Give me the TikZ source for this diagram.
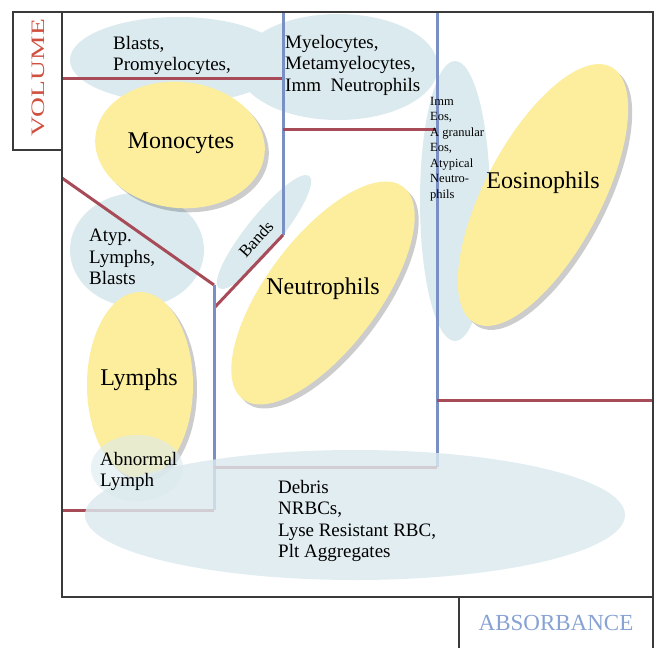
\documentclass[tikz,border=0pt]{standalone}
\usepackage{fontspec}
\setmainfont{Liberation Serif}
\usepackage{graphicx}
\usetikzlibrary{shapes.geometric,shadows}
\definecolor{framec}{HTML}{3A3A3A}
\definecolor{redl}{HTML}{A84B58}
\definecolor{bluel}{HTML}{7A8FC4}
\definecolor{bubblec}{HTML}{DBEAEE}
\definecolor{yellc}{HTML}{FCEE9C}
\definecolor{volc}{HTML}{D05040}
\definecolor{absc}{HTML}{88A3D3}
\tikzset{
  framestyle/.style={draw=framec, line width=2.8pt},
  redline/.style={draw=redl, line width=3pt},
  blueline/.style={draw=bluel, line width=3pt},
  bubble/.style={ellipse, fill=bubblec, inner sep=0pt},
  yell/.style={ellipse, fill=yellc, inner sep=0pt,
    drop shadow={shadow xshift=4pt, shadow yshift=-4pt, fill=black, opacity=0.2}},
  smalltxt/.style={align=left, inner sep=0pt, anchor=north west,
    font=\fontsize{19}{21.5}\selectfont},
  tinytxt/.style={align=left, inner sep=0pt, anchor=north west,
    font=\fontsize{12.5}{15.5}\selectfont},
  bigtxt/.style={inner sep=0pt, font=\fontsize{24}{28}\selectfont},
}
\begin{document}
\begin{tikzpicture}[x=1pt, y=-1pt]
\useasboundingbox (0,0) rectangle (655,647);
\fill[white] (0,0) rectangle (655,647);

% light blue bubbles
\node[bubble, minimum width=216pt, minimum height=86pt] (blastsb) at (178,60) {};
\node[bubble, minimum width=200pt, minimum height=106pt] (myelob) at (338,67) {};
\node[bubble, minimum width=134pt, minimum height=114pt] (atypb) at (137,250) {};
\node[bubble, minimum width=144pt, minimum height=34pt, rotate=51] (bandsb) at (264,232) {};
\node[bubble, minimum width=70pt, minimum height=280pt] (eosb) at (455,201) {};

% region lines
\coordinate (t1) at (62,79);   \coordinate (t2) at (283,79);
\coordinate (v1) at (283,12);  \coordinate (v2) at (283,235);
\coordinate (b1) at (215,307);
\coordinate (d1) at (62,178);  \coordinate (d2) at (214,285);
\coordinate (l1) at (214,510); \coordinate (l0) at (62,510);
\coordinate (m1) at (283,130); \coordinate (m2) at (437,130);
\coordinate (r1) at (437,12);  \coordinate (r2) at (437,467);
\coordinate (n1) at (214,467);
\coordinate (e1) at (437,400); \coordinate (e2) at (653,400);

\draw[redline] (t1) -- (t2);
\draw[blueline] (v1) -- (v2);
\draw[redline] (v2) -- (b1);
\draw[redline] (d1) -- (d2);
\draw[blueline] (d2) -- (l1);
\draw[redline] (l0) -- (l1);
\draw[redline] (m1) -- (m2);
\draw[blueline] (r1) -- (r2);
\draw[redline] (n1) -- (r2);
\draw[redline] (e1) -- (e2);

% yellow populations
\node[yell, minimum width=170pt, minimum height=126pt, rotate=-6] (monob) at (180,145) {};
\node[yell, minimum width=266pt, minimum height=112pt, rotate=53] (neub) at (323,293) {};
\node[yell, minimum width=106pt, minimum height=186pt] (lymb) at (140,385) {};
\node[yell, minimum width=290pt, minimum height=116pt, rotate=62] (eosyb) at (543,195) {};

% overlapping translucent bubbles
\node[bubble, fill opacity=0.6, minimum width=92pt, minimum height=66pt] (abnb) at (137,468) {};
\node[bubble, fill opacity=0.82, minimum width=540pt, minimum height=130pt] (debrisb) at (355,515) {};

% frame
\draw[framestyle] (62,12) rectangle (653,597);
\draw[framestyle] (13,12) rectangle (62,150);
\draw[framestyle] (459,597) rectangle (653,660);

% axis labels
\node[inner sep=0pt, text=volc, rotate=90, font=\fontsize{19}{22}\selectfont] (vol) at (38,78)
  {\scalebox{1.45}[1]{VOLUME}};
\node[inner sep=0pt, text=absc, font=\fontsize{23}{26}\selectfont] (abs) at (556,623) {ABSORBANCE};

% texts
\node[smalltxt] (blastst) at (113,36) {Blasts,\\Promyelocytes,};
\node[smalltxt] (myelot) at (285,35) {Myelocytes,\\Metamyelocytes,\\Imm\hspace{0.5em}Neutrophils};
\node[bigtxt] (monot) at (181,143) {Monocytes};
\node[smalltxt] (atypt) at (89,229) {Atyp.\\Lymphs,\\Blasts};
\node[inner sep=0pt, rotate=48, font=\fontsize{17}{20}\selectfont] (bandst) at (256,239) {Bands};
\node[bigtxt] (neut) at (323,289) {Neutrophils};
\node[bigtxt] (lymt) at (139,380) {Lymphs};
\node[smalltxt] (abnt) at (100,452) {Abnormal\\Lymph};
\node[smalltxt] (debt) at (278,480) {Debris\\NRBCs,\\Lyse Resistant RBC,\\Plt Aggregates};
\node[tinytxt] (immt) at (430,97) {Imm\\Eos,\\A granular\\Eos,\\Atypical\\Neutro-\\phils};
\node[bigtxt] (eost) at (543,183) {Eosinophils};
\end{tikzpicture}
\end{document}
